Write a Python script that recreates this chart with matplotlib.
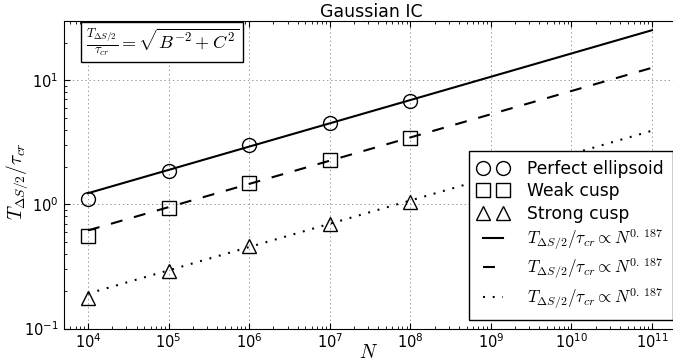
import matplotlib
matplotlib.use('Agg')
import matplotlib.pyplot as plt

# measured points
N = [1e4, 1e5, 1e6, 1e7, 1e8]
perfect = [1.10, 1.85, 2.99, 4.52, 6.78]
weak = [0.552, 0.93, 1.50, 2.26, 3.42]
strong = [0.175, 0.288, 0.459, 0.699, 1.04]

# fit lines (end points)
N_fit = [1e4, 1e11]
fit_perfect = [1.23, 25.3]
fit_weak = [0.617, 12.6]
fit_strong = [0.191, 3.92]

labels = ['Perfect ellipsoid', 'Weak cusp', 'Strong cusp']
fit_label = r'$T_{\Delta S/2}/\tau_{cr} \propto N^{0.\,187}$'

plt.rcParams['mathtext.fontset'] = 'cm'
plt.rcParams['lines.scale_dashes'] = False
plt.rcParams['xtick.direction'] = 'in'
plt.rcParams['ytick.direction'] = 'in'
plt.rcParams['xtick.top'] = True
plt.rcParams['ytick.right'] = True
plt.rcParams['xtick.major.size'] = 4
plt.rcParams['ytick.major.size'] = 4
plt.rcParams['xtick.minor.size'] = 2
plt.rcParams['ytick.minor.size'] = 2

fig = plt.figure(figsize=(6.73, 3.63), dpi=100)
# right spine sits just outside the picture, as in the reference
ax = fig.add_axes([63.5/673, 34.5/363, 616.5/673, 307.5/363])

mk = dict(ls='none', mfc='none', mec='k', ms=10, mew=1.0)
ax.plot(N, perfect, marker='o', label=labels[0], **mk)
ax.plot(N, weak, marker='s', label=labels[1], **mk)
ax.plot(N, strong, marker='^', label=labels[2], **mk)

ax.plot(N_fit, fit_perfect, 'k-', lw=1.5, label=fit_label)
ax.plot(N_fit, fit_weak, color='k', lw=1.5, ls=(0, (8.6, 8.6)), label=fit_label)
ax.plot(N_fit, fit_strong, color='k', lw=1.5, ls=(0, (1.4, 5.6)), label=fit_label)

ax.set_xscale('log')
ax.set_yscale('log')
ax.set_xlim(10**3.696, 10**11.347)
ax.set_ylim(0.1, 30)
ax.grid(True, which='major', color='#999999', ls=(0, (1, 2)), lw=0.7)
ax.tick_params(labelsize=10.5)
ax.tick_params(axis='x', pad=3)

ax.set_xlabel(r'$N$', fontsize=14)
ax.xaxis.set_label_coords(0.495, -0.046)
ax.set_ylabel(r'$T_{\Delta S/2}/\tau_{cr}$', fontsize=14)
ax.yaxis.set_label_coords(-0.054, 0.48)
ax.set_title('Gaussian IC', fontsize=12.5, pad=3)

ax.text(0.036, 0.982, r'$\frac{T_{\Delta S/2}}{\tau_{cr}} = \sqrt{B^{-2}+C^2}$',
        transform=ax.transAxes, fontsize=13.1, va='top', ha='left',
        bbox=dict(boxstyle='square,pad=0.25', fc='white', ec='k', lw=1))

leg = ax.legend(loc='lower right', numpoints=2, fontsize=12.3, fancybox=False,
                edgecolor='k', framealpha=1, handlelength=1.75, handletextpad=1.1,
                bbox_to_anchor=(673/673, 43/363), bbox_transform=fig.transFigure,
                borderaxespad=0, labelspacing=0.25, borderpad=0.55)
leg.get_frame().set_linewidth(1.0)

fig.savefig('out.png', dpi=100)
